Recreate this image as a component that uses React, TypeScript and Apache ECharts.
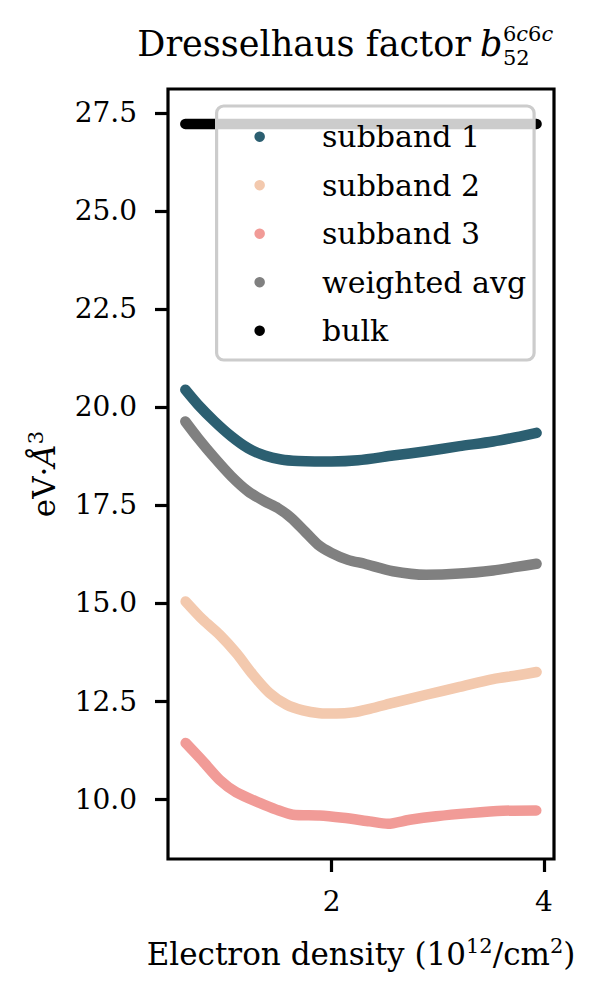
import React, { useEffect, useRef } from "react";
import * as echarts from "echarts";

// Electron density (10^12/cm^2) vs. b52 (eV·Å^3)
const subband1: [number, number][] = [
  [0.622, 20.44], [0.741, 20.06], [0.898, 19.63], [1.056, 19.25], [1.212, 18.95],
  [1.369, 18.76], [1.526, 18.66], [1.683, 18.62], [1.84, 18.61], [1.997, 18.61],
  [2.248, 18.64], [2.577, 18.76], [2.89, 18.87], [3.205, 19.0], [3.52, 19.12],
  [3.74, 19.23], [3.93, 19.34],
];
const subband2: [number, number][] = [
  [0.625, 15.04], [0.788, 14.57], [0.945, 14.19], [1.103, 13.72], [1.259, 13.17],
  [1.416, 12.7], [1.573, 12.41], [1.73, 12.26], [1.887, 12.19], [2.044, 12.18],
  [2.2, 12.21], [2.358, 12.3], [2.577, 12.45], [2.89, 12.66], [3.205, 12.86],
  [3.52, 13.06], [3.74, 13.15], [3.93, 13.24],
];
const subband3: [number, number][] = [
  [0.625, 11.43], [0.788, 10.96], [0.945, 10.49], [1.103, 10.17], [1.322, 9.9],
  [1.479, 9.73], [1.636, 9.6], [1.887, 9.58], [2.106, 9.52], [2.358, 9.43],
  [2.53, 9.37], [2.736, 9.47], [2.986, 9.56], [3.3, 9.64], [3.613, 9.7], [3.927, 9.71],
];
const weightedAvg: [number, number][] = [
  [0.622, 19.63], [0.741, 19.21], [0.898, 18.7], [1.056, 18.23], [1.212, 17.85],
  [1.369, 17.59], [1.494, 17.42], [1.62, 17.17], [1.746, 16.83], [1.871, 16.49],
  [1.997, 16.28], [2.153, 16.1], [2.31, 16.0], [2.577, 15.81], [2.89, 15.72],
  [3.205, 15.75], [3.52, 15.83], [3.74, 15.92], [3.93, 16.0],
];
const bulk: [number, number][] = [
  [0.622, 27.22], [1.0, 27.22], [1.5, 27.22], [2.0, 27.22], [2.5, 27.22],
  [3.0, 27.22], [3.5, 27.22], [3.93, 27.22],
];

const xTicks = [2, 4];
const yTicks = [10, 12.5, 15, 17.5, 20, 22.5, 25, 27.5];

const seriesNames = ["subband 1", "subband 2", "subband 3", "weighted avg", "bulk"];
const seriesColors = ["#2c5f71", "#f3c9ae", "#f19b97", "#808080", "#000000"];

const FONT = "DejaVu Serif";

export default function App() {
  const ref = useRef<HTMLDivElement>(null);

  useEffect(() => {
    document.body.style.margin = "0";
    if (!ref.current) return;
    const chart = echarts.init(ref.current, undefined, { renderer: "svg" });
    const datasets = [subband1, subband2, subband3, weightedAvg, bulk];

    const richLabel = {
      a: { fontFamily: FONT, fontSize: 31, lineHeight: 38, color: "#000" },
      i: { fontFamily: FONT, fontSize: 31, lineHeight: 38, fontStyle: "italic", color: "#000" },
      s: { fontFamily: FONT, fontSize: 21, lineHeight: 21, verticalAlign: "top", color: "#000" },
    };

    const option: any = {
      animation: false,
      backgroundColor: "#ffffff",
      grid: {
        left: 168,
        right: 56,
        top: 89,
        bottom: 141,
        show: true,
        borderColor: "#000",
        borderWidth: 3.2,
        backgroundColor: "transparent",
      },
      xAxis: {
        type: "value",
        min: 0.459,
        max: 4.094,
        axisLine: { show: false },
        splitLine: { show: false },
        axisTick: {
          show: true,
          length: 13,
          lineStyle: { color: "#000", width: 3.2 },
          customValues: xTicks,
        },
        axisLabel: {
          show: true,
          margin: 28,
          fontFamily: FONT,
          fontSize: 28,
          color: "#000",
          customValues: xTicks,
          formatter: (v: number) => String(v),
        },
        name: "{a|Electron density (10}{s|12}{a|/cm}{s|2}{a|)}",
        nameLocation: "middle",
        nameGap: 76,
        nameTextStyle: { fontFamily: FONT, fontSize: 31, color: "#000", rich: richLabel },
      },
      yAxis: {
        type: "value",
        min: 8.47,
        max: 28.11,
        axisLine: { show: false },
        splitLine: { show: false },
        axisTick: {
          show: true,
          length: 13,
          lineStyle: { color: "#000", width: 3.2 },
          customValues: yTicks,
        },
        axisLabel: {
          show: true,
          margin: 31,
          fontFamily: FONT,
          fontSize: 28,
          color: "#000",
          customValues: yTicks,
          formatter: (v: number) => v.toFixed(1),
        },
        name: "{a|eV·}{i|Å}{s|3}",
        nameLocation: "middle",
        nameRotate: 90,
        nameGap: 105,
        nameTextStyle: { fontFamily: FONT, fontSize: 31, color: "#000", rich: richLabel },
      },
      legend: {
        orient: "vertical",
        left: 216.6,
        top: 106,
        padding: [15.7, 8, 14.3, 37.8],
        itemWidth: 20,
        itemHeight: 10.5,
        itemGap: 18.5,
        icon: "circle",
        backgroundColor: "rgba(255,255,255,0.8)",
        borderColor: "#cccccc",
        borderWidth: 3.2,
        borderRadius: 7,
        selectedMode: false,
        z: 10,
        textStyle: {
          fontFamily: FONT,
          fontSize: 30,
          color: "#000",
          lineHeight: 30,
          padding: [0, 0, 0, 47.3],
        },
        data: seriesNames,
      },
      graphic: [
        {
          type: "text",
          x: 471,
          y: 56 - 0.346 * 35,
          style: {
            text: "Dresselhaus factor",
            fontFamily: FONT,
            fontSize: 35,
            fill: "#000",
            textAlign: "right",
            align: "right",
            textVerticalAlign: "middle",
            verticalAlign: "middle",
          },
        },
        {
          type: "text",
          x: 480,
          y: 56 - 0.346 * 35,
          style: {
            text: "b",
            fontFamily: FONT,
            fontSize: 35,
            fontStyle: "italic",
            fill: "#000",
            textAlign: "left",
            align: "left",
            textVerticalAlign: "middle",
            verticalAlign: "middle",
          },
        },
        {
          type: "text",
          x: 503,
          y: 45.75,
          style: {
            text: "{n|6}{i|c}{n|6}{i|c}\n{n|52}",
            fontFamily: FONT,
            fontSize: 21,
            lineHeight: 24.5,
            fill: "#000",
            textAlign: "left",
            align: "left",
            textVerticalAlign: "middle",
            verticalAlign: "middle",
            rich: {
              n: { fontFamily: FONT, fontSize: 21, lineHeight: 24.5, fill: "#000", color: "#000" },
              i: { fontFamily: FONT, fontSize: 21, lineHeight: 24.5, fontStyle: "italic", fill: "#000", color: "#000" },
            },
          },
        },
      ],
      series: datasets.map((d, i) => ({
        type: "line",
        name: seriesNames[i],
        data: d,
        symbol: "none",
        showSymbol: false,
        smooth: i === 4 ? false : 0.25,
        silent: true,
        z: 2 + i * 0.01,
        itemStyle: { color: seriesColors[i] },
        lineStyle: { color: seriesColors[i], width: 10.5, cap: "round", join: "round" },
        emphasis: { disabled: true },
      })),
    };

    chart.setOption(option);
    return () => chart.dispose();
  }, []);

  return (
    <div
      ref={ref}
      style={{ position: "absolute", left: 0, top: 0, width: 610, height: 1000 }}
    />
  );
}
